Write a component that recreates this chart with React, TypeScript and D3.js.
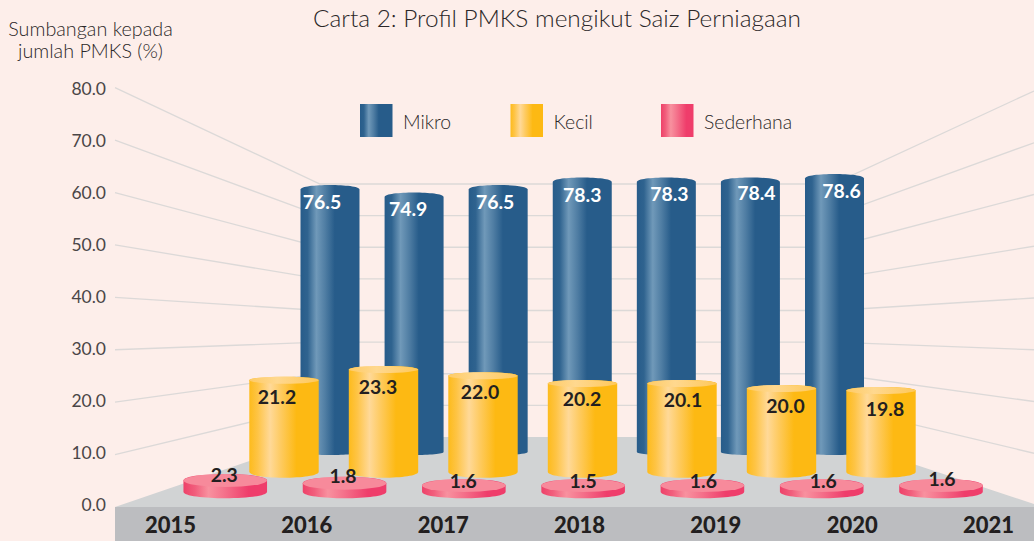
import React from "react";
import * as d3 from "d3";

const years = ["2015", "2016", "2017", "2018", "2019", "2020", "2021"];
const mikro = [76.5, 74.9, 76.5, 78.3, 78.3, 78.4, 78.6];
const kecil = [21.2, 23.3, 22.0, 20.2, 20.1, 20.0, 19.8];
const sederhana = [2.3, 1.8, 1.6, 1.5, 1.6, 1.6, 1.6];
const gridTicks = [0, 10, 20, 30, 40, 50, 60, 70, 80];
const legendItems = ["Mikro", "Kecil", "Sederhana"];

const FONT = "Lato, sans-serif";
const INK = "#2b2728";
const DARK = "#231f20";

// Perspective scales: front-left wall edge, back wall, front-right wall edge
const yLeft = d3.scaleLinear().domain([0, 80]).range([507, 87.7]);
const yBack = d3.scaleLinear().domain([0, 80]).range([437, 184]);
const yRight = d3.scaleLinear().domain([0, 80]).range([505, 91]);
const yTickLabel = d3.scaleLinear().domain([0, 80]).range([504, 88]);

const xBlue = d3.scalePoint<string>().domain(years).range([330, 834.5]);
const xYellow = d3.scalePoint<string>().domain(years).range([284, 881]);
const xPink = d3.scalePoint<string>().domain(years).range([225.25, 941]);
const xYear = d3.scalePoint<string>().domain(years).range([170.5, 988.5]);

// Bar-top scales (the original's 3D projection is not quite linear)
const topBlue = d3.scaleLinear().domain([74.9, 76.5, 78.3, 78.4, 78.6]).range([192.5, 185, 177.5, 177.5, 174]);
const topYellow = d3.scaleLinear().domain([19.8, 20.0, 20.1, 20.2, 21.2, 22.0, 23.3]).range([387, 385, 380, 380, 376.7, 372.3, 366]);
const topPink = d3.scaleLinear().domain([1.5, 1.6, 1.8, 2.3]).range([479, 479, 476.7, 474]);

const blueDx = [-8, -6, -3, 0, 3, 6, 7];
const blueDy = [16, 15.5, 16, 16.5, 16, 15, 16];
const yellowDx = [-7, -5.5, -3, -0.5, 1, 4, 4];
const yellowDy = [20, 20.7, 19.4, 18, 19, 20, 21];
const pinkDx = [-1, -1.5, -0.5, 0, 1, 1.5, 1];
const pinkDy = [0, -1, 1, 1, 1, 1, -0.5];

function cylinder(cx: number, rx: number, top: number, ryTop: number, bottom: number, ryBottom: number) {
  const p = d3.path();
  const x0 = cx - rx, x1 = cx + rx, yT = top + ryTop, yB = bottom - ryBottom;
  p.moveTo(x0, yT);
  p.bezierCurveTo(x0, yT - ryTop * 1.33, x1, yT - ryTop * 1.33, x1, yT);
  p.lineTo(x1, yB);
  p.bezierCurveTo(x1, yB + ryBottom * 1.33, x0, yB + ryBottom * 1.33, x0, yB);
  p.closePath();
  return p.toString();
}

function Grad({ id, stops }: { id: string; stops: [number, string][] }) {
  return (
    <linearGradient id={id} x1="0" x2="1" y1="0" y2="0">
      {stops.map(([o, c], i) => (
        <stop key={i} offset={o} stopColor={c} />
      ))}
    </linearGradient>
  );
}

const blueStops: [number, string][] = [[0, "#275c8a"], [0.12, "#2f638f"], [0.27, "#7099b9"], [0.42, "#4f7da3"], [0.58, "#275c8a"], [1, "#275c8a"]];
const yellowStops: [number, string][] = [[0, "#fdbb1c"], [0.12, "#fec445"], [0.3, "#ffd998"], [0.45, "#fecb62"], [0.68, "#fdb913"], [1, "#fdb913"]];
const pinkStops: [number, string][] = [[0, "#ee4169"], [0.14, "#f15e7c"], [0.3, "#f8919f"], [0.5, "#f4708a"], [0.78, "#ef3d6b"], [1, "#ef3d6b"]];
const legendIds = ["gBlue", "gYellow", "gPink"];
const legendX = d3.scalePoint<string>().domain(legendItems).range([360, 661]);

export default function App() {
  return (
    <svg width={1034} height={541} style={{ position: "absolute", left: 0, top: 0, background: "#fdeeea", fontFamily: FONT }}>
      <defs>
        <Grad id="gBlue" stops={blueStops} />
        <Grad id="gYellow" stops={yellowStops} />
        <Grad id="gPink" stops={pinkStops} />
        <Grad id="gYellowTop" stops={[[0, "#fecb66"], [0.4, "#ffd88f"], [1, "#fec85a"]]} />
      </defs>

      <text x={557} y={17} textAnchor="middle" dominantBaseline="central" fontSize={24.4} fontWeight={300} fill={INK}>
        Carta 2: Profil PMKS mengikut Saiz Perniagaan
      </text>
      <text textAnchor="middle" fontSize={19.8} fontWeight={300} fill={INK}>
        <tspan x={90.5} y={36}>Sumbangan kepada</tspan>
        <tspan x={90.5} y={58}>jumlah PMKS (%)</tspan>
      </text>

      {gridTicks.map((t) => (
        <g key={t}>
          <text x={106} y={yTickLabel(t)} textAnchor="end" dominantBaseline="central" fontSize={17.5} fontWeight={400} fill="#4a4647">
            {t.toFixed(1)}
          </text>
          {t > 0 && (
            <path
              d={d3.line()([[115, yLeft(t)], [320, yBack(t)], [833, yBack(t)], [1034, yRight(t)]]) as string}
              fill="none"
              stroke="#dcd9d8"
              strokeWidth={1.3}
            />
          )}
        </g>
      ))}

      <polygon points="115,507 320,437 832,437 1034,504 1034,507" fill="#d1d3d4" />
      <rect x={115} y={507} width={919} height={34} fill="#bcbdc0" />

      {legendItems.map((name, i) => (
        <g key={name}>
          <rect x={legendX(name)} y={104} width={32.5} height={33} fill={`url(#${legendIds[i]})`} />
          <text x={(legendX(name) as number) + 43} y={121.5} dominantBaseline="central" fontSize={19.4} fontWeight={300} fill={INK}>
            {name}
          </text>
        </g>
      ))}

      {years.map((y, i) => (
        <path key={y} d={cylinder(xBlue(y) as number, 29.5, topBlue(mikro[i]), 4.5, 455, 3)} fill="url(#gBlue)" />
      ))}
      {years.map((y, i) => {
        const cx = xYellow(y) as number;
        const t = topYellow(kecil[i]);
        return (
          <g key={y}>
            <path d={cylinder(cx, 34.7, t, 3.5, 477.7, 6)} fill="url(#gYellow)" />
            <ellipse cx={cx} cy={t + 3.5} rx={34.7} ry={3.5} fill="url(#gYellowTop)" />
          </g>
        );
      })}
      {years.map((y, i) => {
        const cx = xPink(y) as number;
        const t = topPink(sederhana[i]);
        return (
          <g key={y}>
            <path d={cylinder(cx, 41.8, t, 6.5, 498.2, 6.5)} fill="url(#gPink)" />
            <ellipse cx={cx} cy={t + 6.5} rx={41.8} ry={6.5} fill="#f78a9b" />
          </g>
        );
      })}

      <g fontSize={19.4} fontWeight={700} textAnchor="middle">
        {years.map((y, i) => (
          <text key={y} x={(xBlue(y) as number) + blueDx[i]} y={topBlue(mikro[i]) + blueDy[i]} fill="#ffffff" dominantBaseline="central">
            {mikro[i].toFixed(1)}
          </text>
        ))}
        {years.map((y, i) => (
          <text key={y} x={(xYellow(y) as number) + yellowDx[i]} y={topYellow(kecil[i]) + yellowDy[i]} fill={DARK} dominantBaseline="central">
            {kecil[i].toFixed(1)}
          </text>
        ))}
        {years.map((y, i) => (
          <text key={y} x={(xPink(y) as number) + pinkDx[i]} y={topPink(sederhana[i]) + pinkDy[i]} fill={DARK} dominantBaseline="central">
            {sederhana[i].toFixed(1)}
          </text>
        ))}
      </g>

      {years.map((y) => (
        <text key={y} x={xYear(y)} y={524} textAnchor="middle" dominantBaseline="central" fontSize={22} fontWeight={900} fill={DARK}>
          {y}
        </text>
      ))}
    </svg>
  );
}
